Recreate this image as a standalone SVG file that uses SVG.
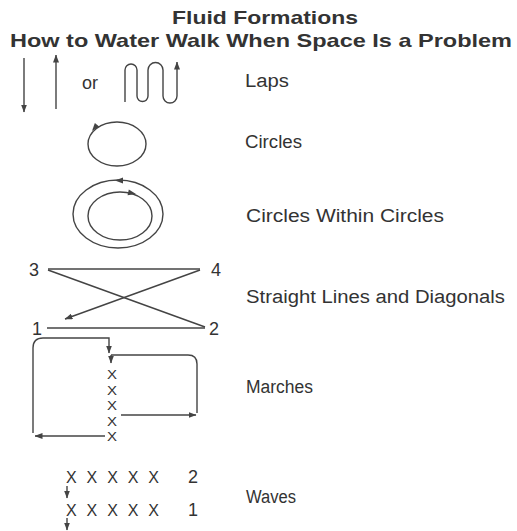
<svg xmlns="http://www.w3.org/2000/svg" xmlns:xlink="http://www.w3.org/1999/xlink" width="517" height="531" viewBox="0 0 517 531">
<style>
  .t { font-family: "Liberation Sans", Arial, sans-serif; fill: #333333; }
  .h { font-weight: bold; font-size: 19px; }
  .lbl { font-size: 18px; }
  .num { font-size: 18px; }
  .x { font-size: 13px; }
  .xw { font-size: 16px; }
  .ln { fill: none; stroke: #444444; stroke-width: 1.4; }
  .ah { fill: #444444; }
</style>
<defs>
  <marker id="arr" markerWidth="8" markerHeight="6" refX="7.5" refY="3" orient="auto" markerUnits="userSpaceOnUse">
    <path d="M0,0 L8,3 L0,6 Z" fill="#444444"/>
  </marker>
  <path id="head" d="M0,0 L-8,-3 L-8,3 Z"/>
</defs>
<rect width="517" height="531" fill="#ffffff"/>

<g id="title">
  <text class="t h" x="172" y="24" textLength="186" lengthAdjust="spacingAndGlyphs">Fluid Formations</text>
  <text class="t h" x="10" y="47" textLength="502" lengthAdjust="spacingAndGlyphs">How to Water Walk When Space Is a Problem</text>
</g>

<g id="laps">
  <text class="t num" x="82" y="89" font-size="17">or</text>
  <text class="t lbl" x="245" y="87" textLength="44" lengthAdjust="spacingAndGlyphs">Laps</text>
</g>

<g id="circles">
  <ellipse class="ln" cx="117" cy="144" rx="29" ry="22"/>
  <use href="#head" class="ah" transform="translate(92,131) rotate(130)"/>
  <text class="t lbl" x="245" y="148" textLength="57" lengthAdjust="spacingAndGlyphs">Circles</text>
</g>

<g id="circles-within-circles">
  <ellipse class="ln" cx="118" cy="214" rx="45" ry="34"/>
  <ellipse class="ln" cx="120" cy="216" rx="32" ry="24"/>
  <use href="#head" class="ah" transform="translate(115,180.5) rotate(180)"/>
  <use href="#head" class="ah" transform="translate(136,194) rotate(12)"/>
  <text class="t lbl" x="246" y="222" textLength="198" lengthAdjust="spacingAndGlyphs">Circles Within Circles</text>
</g>

<g id="straight-lines">
  <text class="t num" x="29" y="276">3</text>
  <text class="t num" x="211" y="276">4</text>
  <text class="t num" x="32" y="335">1</text>
  <text class="t num" x="209" y="335">2</text>
  <text class="t lbl" x="246" y="303" textLength="259" lengthAdjust="spacingAndGlyphs">Straight Lines and Diagonals</text>
</g>

<g id="marches">
  <text class="t x" x="107" y="379" textLength="10" lengthAdjust="spacingAndGlyphs">X</text>
  <text class="t x" x="107" y="394.5" textLength="10" lengthAdjust="spacingAndGlyphs">X</text>
  <text class="t x" x="107" y="410" textLength="10" lengthAdjust="spacingAndGlyphs">X</text>
  <text class="t x" x="107" y="425.5" textLength="10" lengthAdjust="spacingAndGlyphs">X</text>
  <text class="t x" x="107" y="441" textLength="10" lengthAdjust="spacingAndGlyphs">X</text>
  <text class="t lbl" x="246" y="393" textLength="67" lengthAdjust="spacingAndGlyphs">Marches</text>
</g>

<g id="waves">
  <text class="t xw" x="66" y="483" textLength="93" lengthAdjust="spacing">X X X X X</text>
  <text class="t xw" x="66" y="516" textLength="93" lengthAdjust="spacing">X X X X X</text>
  <text class="t num" x="198" y="483" text-anchor="end">2</text>
  <text class="t num" x="198" y="516" text-anchor="end">1</text>
  <text class="t lbl" x="246" y="503" textLength="50" lengthAdjust="spacingAndGlyphs">Waves</text>
</g>

<g id="connectors">
  <!-- laps -->
  <line class="ln" x1="24" y1="58" x2="24" y2="112" marker-end="url(#arr)"/>
  <line class="ln" x1="56" y1="109" x2="56" y2="55" marker-end="url(#arr)"/>
  <path class="ln" d="M125,102 V70 A6,6 0 0 1 137,70 V96 A5.5,5.5 0 0 0 148,96 V70 A7.5,7.5 0 0 1 163,70 V96 A7,7 0 0 0 177,96 V62" marker-end="url(#arr)"/>
  <!-- straight lines and diagonals -->
  <line class="ln" x1="48" y1="269" x2="200" y2="269"/>
  <line class="ln" x1="48" y1="270" x2="205" y2="327"/>
  <line class="ln" x1="47" y1="328" x2="205" y2="328"/>
  <line class="ln" x1="200" y1="270" x2="65" y2="319" marker-end="url(#arr)"/>
  <!-- marches -->
  <path class="ln" d="M33,433 V348 Q33,338 43,338 H109 V353" marker-end="url(#arr)"/>
  <path class="ln" d="M111,355 H188 Q197,355 197,364 V413"/>
  <line class="ln" x1="111" y1="355" x2="111" y2="363" marker-end="url(#arr)"/>
  <line class="ln" x1="121" y1="415" x2="196" y2="415" marker-end="url(#arr)"/>
  <line class="ln" x1="105" y1="436" x2="35" y2="436" marker-end="url(#arr)"/>
  <!-- waves -->
  <line class="ln" x1="67" y1="486" x2="67" y2="498" marker-end="url(#arr)"/>
  <line class="ln" x1="67" y1="518" x2="67" y2="530" marker-end="url(#arr)"/>
</g>
</svg>
